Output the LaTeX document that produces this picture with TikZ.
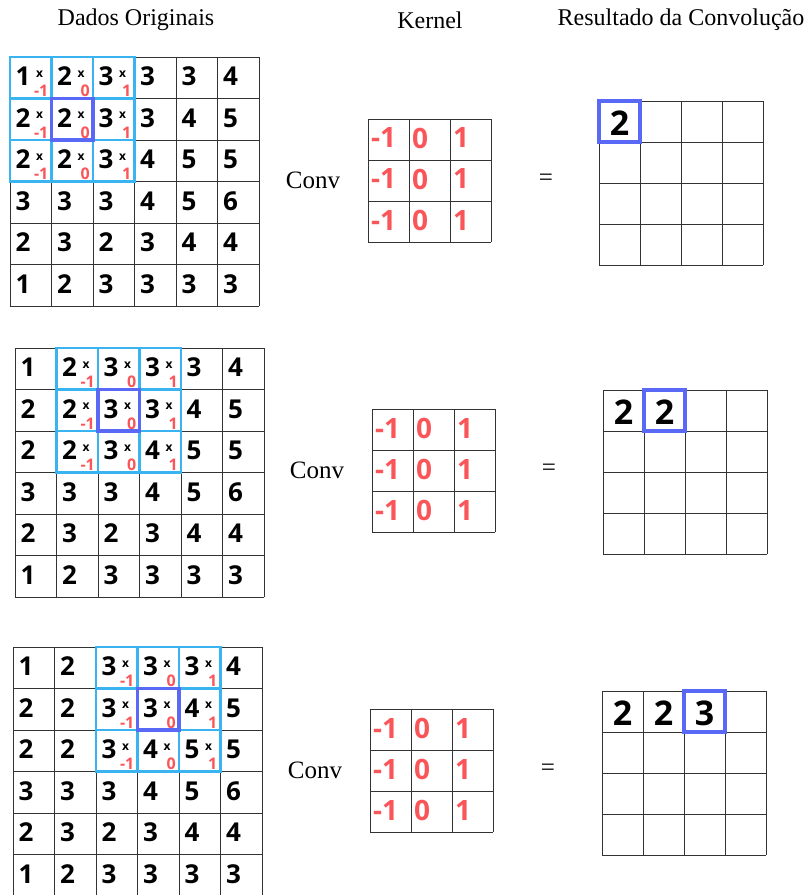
\documentclass[tikz,border=0pt]{standalone}
\usepackage{fontspec}
\setmainfont{Liberation Serif}
\newfontfamily\digitfont{Open Sans}
\usetikzlibrary{positioning}

\definecolor{convred}{RGB}{250,85,88}
\definecolor{windowcyan}{RGB}{58,180,240}
\definecolor{focusblue}{RGB}{90,105,245}

% 6x6 input data, cell 41.5, window starting at column #4
\newcommand{\inputpanel}[4]{%
  \foreach \r/\vals in {0/{1,2,3,3,3,4},1/{2,2,3,3,4,5},2/{2,2,3,4,5,5},3/{3,3,3,4,5,6},4/{2,3,2,3,4,4},5/{1,2,3,3,3,3}}
    \foreach \v [count=\c from 0] in \vals
      \node[cellnum] (#3-\r-\c) at ({#1+\c*41.5+5.5},{#2+\r*41.5+19.5}) {\v};
  \foreach \k in {0,...,6} {
    \draw[gridline] ({#1+\k*41.5},#2) -- ++(0,249);
    \draw[gridline] (#1,{#2+\k*41.5}) -- ++(249,0);
  }
  \foreach \r in {0,1,2}
    \foreach \k/\wt in {0/-1,1/0,2/1} {
      \pgfmathtruncatemacro\c{#4+\k}
      \node[timesmark] (#3-x-\r-\k) at ({#1+\c*41.5+29.5},{#2+\r*41.5+17}) {x};
      \node[weightnum] (#3-w-\r-\k) at ({#1+\c*41.5+38.5},{#2+\r*41.5+34}) {\wt};
      \draw[window] ({#1+\c*41.5},{#2+\r*41.5}) rectangle ++(41.5,41.5);
    }
  \draw[focus] ({#1+(#4+1)*41.5},{#2+41.5}) rectangle ++(41.5,41.5);
}

% 3x3 kernel, cell 41
\newcommand{\kernelgrid}[3]{%
  \foreach \r in {0,1,2}
    \foreach \v [count=\c from 0] in {-1,0,1}
      \node[kernelnum] (#3-\r-\c) at ({#1+\c*41+3},{#2+\r*41+19}) {\v};
  \foreach \k in {0,...,3} {
    \draw[gridline] ({#1+\k*41},#2) -- ++(0,123);
    \draw[gridline] (#1,{#2+\k*41}) -- ++(123,0);
  }
}

% 4x4 result, cell 41, values of first row in #4, focus column #5
\newcommand{\resultgrid}[5]{%
  \foreach \k in {0,...,4} {
    \draw[gridline] ({#1+\k*41},#2) -- ++(0,164);
    \draw[gridline] (#1,{#2+\k*41}) -- ++(164,0);
  }
  \foreach \v [count=\c from 0] in {#4}
    \node[resultnum] (#3-\c) at ({#1+\c*41+20.5},{#2+22}) {\v};
  \draw[focus] ({#1+#5*41},#2) rectangle ++(41,41);
}

\begin{document}
\begin{tikzpicture}[x=1pt,y=-1pt,
  cellnum/.style={font=\digitfont\bfseries\fontsize{26}{26}\selectfont, anchor=west, inner sep=0pt},
  timesmark/.style={font=\digitfont\bfseries\fontsize{12}{12}\selectfont, inner sep=0pt},
  weightnum/.style={font=\digitfont\bfseries\fontsize{16}{16}\selectfont, text=convred, anchor=east, inner sep=0pt},
  kernelnum/.style={font=\digitfont\bfseries\fontsize{28}{28}\selectfont, text=convred, anchor=west, inner sep=0pt},
  resultnum/.style={font=\digitfont\bfseries\fontsize{34}{34}\selectfont, inner sep=0pt},
  heading/.style={font=\fontsize{24}{24}\selectfont, inner sep=0pt},
  opsign/.style={font=\fontsize{25}{25}\selectfont, inner sep=0pt},
  gridline/.style={draw=black!80, line width=1pt},
  window/.style={draw=windowcyan, line width=2.8pt},
  focus/.style={draw=focusblue, line width=3.2pt}]
\fill[white] (0,0) rectangle (811,895);
\useasboundingbox (0,0) rectangle (811,895);

\node[heading] (dados) at (136,20) {Dados Originais};
\node[heading] (kernel) at (430,20) {Kernel};
\node[heading] (resultado) at (681,20) {Resultado da Convolução};

\inputpanel{10}{57}{da}{0}
\inputpanel{15}{348}{db}{1}
\inputpanel{13}{647}{dc}{2}

\kernelgrid{368}{119}{ka}
\kernelgrid{372}{409}{kb}
\kernelgrid{370}{709}{kc}

\node[opsign] (conva) at (313,180) {Conv};
\node[opsign] (convb) at (317,470) {Conv};
\node[opsign] (convc) at (315,770) {Conv};

\node[opsign] (eqa) at (546,180) {=};
\node[opsign] (eqb) at (549,470) {=};
\node[opsign] (eqc) at (548,770) {=};

\resultgrid{599}{101}{ra}{2}{0}
\resultgrid{603}{390}{rb}{2,2}{1}
\resultgrid{602}{691}{rc}{2,2,3}{2}
\end{tikzpicture}
\end{document}
